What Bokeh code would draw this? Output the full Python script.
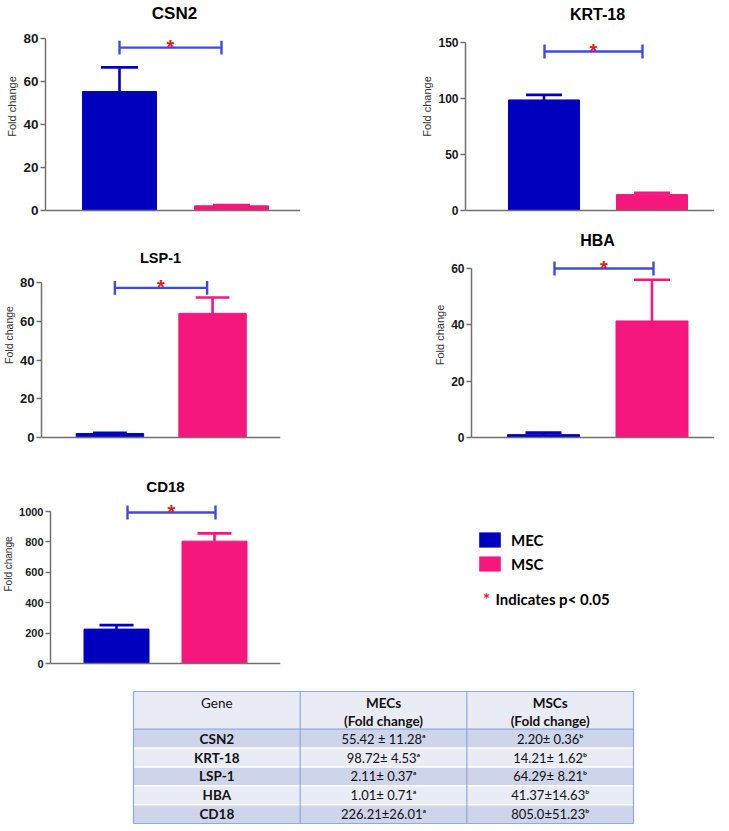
from bokeh.plotting import figure
from bokeh.layouts import column, row
from bokeh.models import Range1d, FixedTicker, Legend, LegendItem, Span
from bokeh.core.properties import value
from bokeh.embed import file_html
from bokeh.resources import INLINE

# ---------------- data ----------------
GENES = ["CSN2", "KRT-18", "LSP-1", "HBA", "CD18"]
GROUPS = ["MEC", "MSC"]
MEC_MEAN = [55.42, 98.72, 2.11, 1.01, 226.21]
MEC_SEM = [11.28, 4.53, 0.37, 0.71, 26.01]
MSC_MEAN = [2.20, 14.21, 64.29, 41.37, 805.0]
MSC_SEM = [0.36, 1.62, 8.21, 14.63, 51.23]
Y_TICKS = [
    [0, 20, 40, 60, 80],
    [0, 50, 100, 150],
    [0, 20, 40, 60, 80],
    [0, 20, 40, 60],
    [0, 200, 400, 600, 800, 1000],
]
Y_LABEL = "Fold change"
SIG_MARK = "*"
SIG_NOTE = "Indicates p< 0.05"
TABLE_HEAD = ["Gene", "MECs", "MSCs"]
TABLE_SUB = ["", "(Fold change)", "(Fold change)"]
MEC_TEXT = ["55.42 ± 11.28ᵃ", "98.72± 4.53ᵃ", "2.11± 0.37ᵃ", "1.01± 0.71ᵃ", "226.21±26.01ᵃ"]
MSC_TEXT = ["2.20± 0.36ᵇ", "14.21± 1.62ᵇ", "64.29± 8.21ᵇ", "41.37±14.63ᵇ", "805.0±51.23ᵇ"]

# ---------------- styles ----------------
MEC_COLOR = "#0000BE"
MSC_COLOR = "#F5177D"
BRACKET_COLOR = "#3F4AE4"
STAR_COLOR = "#E8161E"
AXIS_COLOR = "#707070"
SANS = "Liberation Sans"
TFONT = "Lato"

# page-pixel layout for each panel (page origin at 0,0)
PANELS = [
    dict(x0=0, y0=0, w=380, h=230, ax=45, rx=300, base=214, tt=39, c1=119, c2=231, bw=74, cap=37,
         bx=(119, 221), by=48, title=(174, 13), tick_fs=13.5, lab_fs=11, title_fs=17),
    dict(x0=380, y0=0, w=349, h=230, ax=465, rx=714, base=210, tt=42, c1=543.5, c2=651.5, bw=71, cap=36,
         bx=(544, 642), by=51, title=(597, 14), tick_fs=12, lab_fs=11, title_fs=16),
    dict(x0=0, y0=230, w=380, h=232, ax=39, rx=280, base=443, tt=284, c1=108, c2=211.5, bw=68, cap=34,
         bx=(113, 206), by=289, title=(159, 258), tick_fs=13, lab_fs=10.5, title_fs=14.5),
    dict(x0=380, y0=230, w=349, h=232, ax=471, rx=714, base=437, tt=268, c1=543, c2=651.5, bw=72, cap=36,
         bx=(554, 653), by=268, title=(597, 240), tick_fs=12, lab_fs=11, title_fs=16),
    dict(x0=0, y0=462, w=380, h=226, ax=50, rx=280, base=663, tt=511, c1=116, c2=214, bw=65, cap=34,
         bx=(127, 215), by=512, title=(165, 486), tick_fs=11, lab_fs=10, title_fs=15),
]


def bar_panel(i):
    g = PANELS[i]
    ticks = Y_TICKS[i]
    top_val = ticks[-1]
    ppx = g["c2"] - g["c1"]
    ppy = (g["base"] - g["tt"]) / top_val
    xs = 1 - (g["c1"] - g["ax"]) / ppx
    xe = xs + (g["rx"] - g["ax"]) / ppx
    below = 2  # frame extends 2px under the baseline
    ys = -below / ppy
    ye = (g["base"] - g["y0"]) / ppy

    def X(px):
        return xs + (px - g["ax"]) / ppx

    def Y(py):
        return (g["base"] - py) / ppy

    p = figure(width=g["w"], height=g["h"], x_range=Range1d(xs, xe), y_range=Range1d(ys, ye),
               output_backend="svg", toolbar_location=None, x_axis_location=None,
               min_border_left=g["ax"] - g["x0"], min_border_right=g["x0"] + g["w"] - g["rx"],
               min_border_top=0, min_border_bottom=g["y0"] + g["h"] - g["base"] - below)
    p.outline_line_color = None
    p.xgrid.visible = False
    p.ygrid.visible = False
    p.background_fill_color = "white"
    p.border_fill_color = "white"

    xpos = [1, 2]
    means = [MEC_MEAN[i], MSC_MEAN[i]]
    sems = [MEC_SEM[i], MSC_SEM[i]]
    colors = [MEC_COLOR, MSC_COLOR]
    tops = [m + s for m, s in zip(means, sems)]
    bw = g["bw"] / ppx
    cw = g["cap"] / ppx

    p.vbar(x=xpos, top=means, bottom=0, width=bw, fill_color=colors, line_color=colors, line_width=1)
    # error bars (upper only)
    p.segment(x0=xpos, y0=means, x1=xpos, y1=tops, line_color=colors, line_width=2.6)
    p.segment(x0=[x - cw / 2 for x in xpos], y0=tops, x1=[x + cw / 2 for x in xpos], y1=tops,
              line_color=colors, line_width=2.6)

    # x baseline
    p.add_layout(Span(location=0, dimension="width", line_color=AXIS_COLOR, line_width=1.5))

    # significance bracket
    bx1, bx2 = X(g["bx"][0]), X(g["bx"][1])
    by = Y(g["by"])
    dy = 7 / ppy
    p.segment(x0=[bx1, bx1, bx2], y0=[by, by - dy, by - dy], x1=[bx2, bx1, bx2], y1=[by, by + dy, by + dy],
              line_color=BRACKET_COLOR, line_width=2.4)
    p.text(x=[(bx1 + bx2) / 2], y=[by + 0.5 / ppy], text=[SIG_MARK], text_align="center",
           text_baseline="alphabetic", text_color=STAR_COLOR, text_font=value(SANS),
           text_font_style="bold", text_font_size="20px")

    # title
    p.text(x=[X(g["title"][0])], y=[Y(g["title"][1])], text=[GENES[i]], text_align="center",
           text_baseline="middle", text_color="black", text_font=value(SANS), text_font_style="bold",
           text_font_size=f"{g['title_fs']}px")

    # y axis
    ya = p.yaxis[0]
    ya.ticker = FixedTicker(ticks=ticks)
    ya.bounds = (0, top_val)
    ya.axis_label = Y_LABEL
    ya.axis_label_text_font = SANS
    ya.axis_label_text_font_style = "normal"
    ya.axis_label_text_font_size = f"{g['lab_fs']}px"
    ya.axis_label_text_color = "#333333"
    ya.axis_label_standoff = 2
    ya.major_label_text_font = SANS
    ya.major_label_text_font_style = "bold"
    ya.major_label_text_font_size = f"{g['tick_fs']}px"
    ya.major_label_text_color = "#1a1a1a"
    ya.major_label_standoff = 2
    ya.major_tick_out = 5
    ya.major_tick_in = 0
    ya.minor_tick_line_color = None
    ya.axis_line_color = AXIS_COLOR
    ya.major_tick_line_color = AXIS_COLOR
    ya.axis_line_width = 1.5
    ya.major_tick_line_width = 1.5
    return p


panels = [bar_panel(i) for i in range(len(GENES))]

# ---------------- legend panel ----------------
LW, LH = 349, 226
lg = figure(width=LW, height=LH, x_range=Range1d(0, LW), y_range=Range1d(LH, 0),
            output_backend="svg", toolbar_location=None, min_border=0,
            x_axis_location=None, y_axis_location=None)
lg.outline_line_color = None
lg.xgrid.visible = False
lg.ygrid.visible = False
# zero-size bars: exist only to supply the legend swatches
r_mec = lg.vbar(x=[0], top=[0], bottom=[0], width=0, fill_color=MEC_COLOR, line_color=None)
r_msc = lg.vbar(x=[0], top=[0], bottom=[0], width=0, fill_color=MSC_COLOR, line_color=None)
legend = Legend(items=[LegendItem(label=GROUPS[0], renderers=[r_mec]),
                       LegendItem(label=GROUPS[1], renderers=[r_msc])],
                location=(96, 92), glyph_width=27, glyph_height=19, label_height=19, label_standoff=8,
                spacing=5, padding=0, margin=0, border_line_color=None, background_fill_alpha=0,
                label_text_font=TFONT, label_text_font_style="bold", label_text_font_size="15px",
                label_text_color="black")
lg.add_layout(legend)
lg.text(x=[106], y=[153], text=[SIG_MARK], text_align="center", text_baseline="alphabetic",
        text_color=STAR_COLOR, text_font=value(TFONT), text_font_style="bold", text_font_size="17px")
lg.text(x=[115], y=[152], text=[SIG_NOTE], text_align="left", text_baseline="alphabetic",
        text_color="black", text_font=value(TFONT), text_font_style="bold", text_font_size="15px")

# ---------------- table ----------------
TX0, TY0, TW, TH = 0, 688, 729, 143
T_LEFT, T_RIGHT, T_TOP, T_BOTTOM = 133, 633, 691, 823
ncol = len(TABLE_HEAD)
n = len(GENES)
hdr_rows = 2
total = hdr_rows + n
col_px = (T_RIGHT - T_LEFT) / ncol
row_px = (T_BOTTOM - T_TOP) / total
tx0 = (TX0 - T_LEFT) / col_px
tx1 = (TX0 + TW - T_LEFT) / col_px
ty_top = (TY0 - T_TOP) / row_px
ty_bot = (TY0 + TH - T_TOP) / row_px
tb = figure(width=TW, height=TH, x_range=Range1d(tx0, tx1), y_range=Range1d(ty_bot, ty_top),
            output_backend="svg", toolbar_location=None, min_border=0,
            x_axis_location=None, y_axis_location=None)
tb.outline_line_color = None
tb.xgrid.visible = False
tb.ygrid.visible = False

DARK, LIGHT, LINE = "#CED4EA", "#E9EBF5", "#8EA9DB"
tb.quad(left=[0], right=[ncol], top=[0], bottom=[hdr_rows], fill_color=LIGHT, line_color=None)
rt = [hdr_rows + k for k in range(n)]
tb.quad(left=[0] * n, right=[ncol] * n, top=rt, bottom=[r + 1 for r in rt],
        fill_color=[DARK if k % 2 == 0 else LIGHT for k in range(n)], line_color=None)
inner = [hdr_rows + k for k in range(1, n)]
tb.segment(x0=[0] * len(inner), x1=[ncol] * len(inner), y0=inner, y1=inner, line_color="white", line_width=1.5)
vx = list(range(ncol + 1))
tb.segment(x0=vx, x1=vx, y0=[0] * len(vx), y1=[total] * len(vx), line_color=LINE, line_width=1.2)
hy = [0, hdr_rows, total]
tb.segment(x0=[0] * 3, x1=[ncol] * 3, y0=hy, y1=hy, line_color=LINE, line_width=1.2)

# header text
tb.text(x=[0.5], y=[0.59], text=[TABLE_HEAD[0]], text_align="center", text_baseline="middle",
        text_font=value(TFONT), text_font_style="normal", text_font_size="13.5px", text_color="#111111")
tb.text(x=[1.5, 2.5], y=[0.59, 0.59], text=TABLE_HEAD[1:], text_align="center", text_baseline="middle",
        text_font=value(TFONT), text_font_style="bold", text_font_size="13.5px", text_color="#111111")
tb.text(x=[1.5, 2.5], y=[1.55, 1.55], text=TABLE_SUB[1:], text_align="center", text_baseline="middle",
        text_font=value(TFONT), text_font_style="bold", text_font_size="13.5px", text_color="#111111")
yc = [r + 0.5 for r in rt]
tb.text(x=[0.5] * n, y=yc, text=GENES, text_align="center", text_baseline="middle",
        text_font=value(TFONT), text_font_style="bold", text_font_size="13.5px", text_color="#111111")
tb.text(x=[1.5] * n, y=yc, text=MEC_TEXT, text_align="center", text_baseline="middle",
        text_font=value(TFONT), text_font_size="13px", text_color="#111111")
tb.text(x=[2.5] * n, y=yc, text=MSC_TEXT, text_align="center", text_baseline="middle",
        text_font=value(TFONT), text_font_size="13px", text_color="#111111")

layout = column(row(panels[0], panels[1]), row(panels[2], panels[3]), row(panels[4], lg), tb)
open("out.html", "w").write(file_html(layout, INLINE))
